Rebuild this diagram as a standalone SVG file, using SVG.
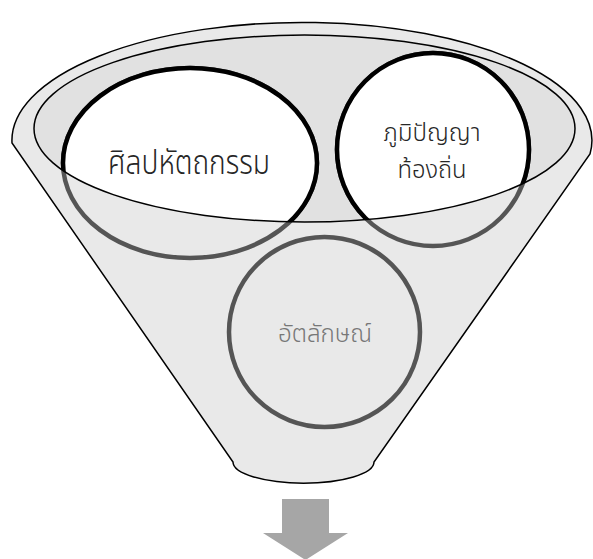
<svg xmlns="http://www.w3.org/2000/svg" width="593" height="559" viewBox="0 0 593 559">
  <style>
    .edge { stroke: #000; stroke-width: 1.5; }
    .ring-back { fill: none; stroke: #555; stroke-width: 4.5; }
    .ring-front { fill: #fff; stroke: #000; stroke-width: 4.5; }
    .label { font-family: "Leelawadee UI", Tahoma, "Noto Sans Thai", "DejaVu Sans", sans-serif; font-weight: 300; text-anchor: middle; }
    .dark { fill: #262626; }
    .muted { fill: #777; }
  </style>
  <defs>
    <clipPath id="mouth">
      <ellipse cx="304.5" cy="128.5" rx="270.5" ry="93.5"/>
    </clipPath>
  </defs>

  <!-- funnel body -->
  <g id="funnel">
    <path class="edge" fill="#e9e9e9"
          d="M 12 143 A 290 118 0 1 1 590 154 L 374 462 A 70 21 0 0 1 233 462 Z"/>
    <ellipse cx="304.5" cy="128.5" rx="270.5" ry="93.5" fill="#e1e1e1"/>
  </g>

  <!-- circles: grey outline below the mouth, white inside it -->
  <g id="node-crafts">
    <ellipse class="ring-back" cx="190" cy="163" rx="127" ry="95"/>
    <ellipse class="ring-front" cx="190" cy="163" rx="127" ry="95" clip-path="url(#mouth)"/>
  </g>
  <g id="node-wisdom">
    <ellipse class="ring-back" cx="433" cy="149.5" rx="96" ry="96.5"/>
    <ellipse class="ring-front" cx="433" cy="149.5" rx="96" ry="96.5" clip-path="url(#mouth)"/>
  </g>
  <g id="node-identity">
    <ellipse class="ring-back" cx="324.5" cy="332" rx="95.5" ry="95"/>
  </g>

  <!-- rim of the funnel mouth -->
  <ellipse class="edge" fill="none" cx="304.5" cy="128.5" rx="270.5" ry="93.5"/>

  <!-- labels -->
  <text class="label dark" x="189" y="174" font-size="34" textLength="162" lengthAdjust="spacingAndGlyphs">ศิลปหัตถกรรม</text>
  <text class="label dark" x="432" y="141" font-size="24" textLength="97" lengthAdjust="spacingAndGlyphs">ภูมิปัญญา</text>
  <text class="label dark" x="432" y="178" font-size="24" textLength="69" lengthAdjust="spacingAndGlyphs">ท้องถิ่น</text>
  <text class="label muted" x="325" y="342" font-size="25" textLength="94" lengthAdjust="spacingAndGlyphs">อัตลักษณ์</text>

  <!-- output arrow -->
  <g id="connectors">
    <path fill="#a6a6a6" d="M 282 499 H 329 V 533 H 348 L 305.5 560 L 263 533 H 282 Z"/>
  </g>
</svg>
